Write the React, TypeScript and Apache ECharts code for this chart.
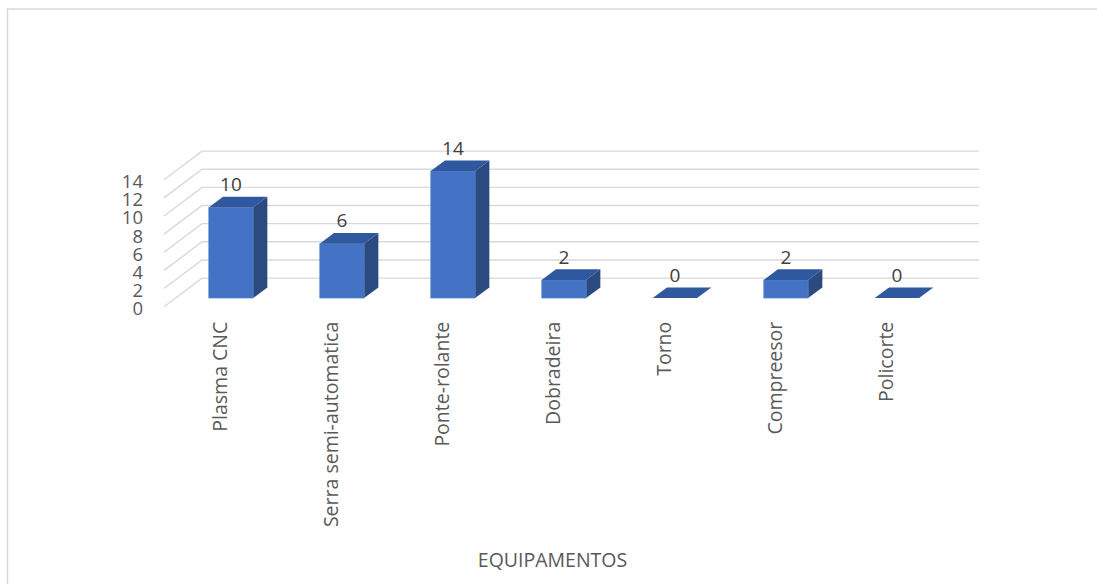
import React, { useEffect, useRef } from "react";
import * as echarts from "echarts";

const categories = [
  "Plasma CNC",
  "Serra semi-automatica",
  "Ponte-rolante",
  "Dobradeira",
  "Torno",
  "Compreesor",
  "Policorte",
];
const values = [10, 6, 14, 2, 0, 2, 0];
const yTicks = [0, 2, 4, 6, 8, 10, 12, 14];
const axisTitle = "EQUIPAMENTOS";

// 3D perspective (style constants)
const DX = 38;
const DY = -28.6;
const FRONT = 0.3;
const DEPTH = 0.375;
const FONT = "'Open Sans', sans-serif";

export default function App() {
  const ref = useRef<HTMLDivElement>(null);
  useEffect(() => {
    const chart = echarts.init(ref.current!, null, { renderer: "svg" });
    chart.setOption({
      animation: false,
      backgroundColor: "#ffffff",
      grid: { left: 164, top: 179.7, width: 777, height: 127, containLabel: false },
      xAxis: {
        type: "category",
        data: categories,
        axisLine: { show: false },
        axisTick: { show: false },
        axisLabel: {
          interval: 0,
          rotate: 90,
          margin: 15,
          color: "#595959",
          fontSize: 19.5,
          fontFamily: FONT,
        },
        name: axisTitle,
        nameLocation: "middle",
        nameGap: 243,
        nameTextStyle: { color: "#595959", fontSize: 19.5, fontFamily: FONT },
      },
      yAxis: {
        type: "value",
        min: 0,
        max: 14,
        interval: 2,
        axisLine: { show: false },
        axisTick: { show: false },
        splitLine: { show: false },
        axisLabel: { show: false },
      },
      graphic: [
        {
          type: "rect",
          silent: true,
          shape: { x: 7.5, y: 9, width: 1300, height: 800 },
          style: { fill: "none", stroke: "#d9d9d9", lineWidth: 1.5 },
        },
      ],
      series: [
        {
          type: "custom",
          silent: true,
          z: 1,
          data: yTicks.map((v) => [0, v]),
          renderItem: (params: any, api: any) => {
            const cs = params.coordSys;
            const v = api.value(1);
            const y = api.coord([0, v])[1];
            const x0 = cs.x;
            const x1 = cs.x + cs.width;
            return {
              type: "group",
              children: [
                {
                  type: "polyline",
                  shape: {
                    points: [
                      [x0, y],
                      [x0 + DX, y + DY],
                      [x1 + DX, y + DY],
                    ],
                  },
                  style: { stroke: "#d9d9d9", lineWidth: 1.4, fill: "none" },
                },
                {
                  type: "text",
                  style: {
                    x: x0 - 21,
                    y: y + 1,
                    text: String(v),
                    align: "right",
                    verticalAlign: "middle",
                    fill: "#595959",
                    fontSize: 18.5,
                    fontFamily: FONT,
                  },
                },
              ],
            };
          },
        },
        {
          type: "custom",
          z: 2,
          data: values.map((v, i) => [i, v]),
          renderItem: (params: any, api: any) => {
            const i = api.value(0);
            const v = api.value(1);
            const top = api.coord([i, v]);
            const base = api.coord([i, 0]);
            const bw = api.size([1, 0])[0] * 0.4;
            const fx = FRONT * DX;
            const fy = FRONT * DY;
            const sx = DEPTH * DX;
            const sy = DEPTH * DY;
            const xl = top[0] - bw / 2 + fx;
            const xr = xl + bw;
            const yt = top[1] + fy;
            const yb = base[1] + fy;
            const children: any[] = [];
            if (v > 0) {
              children.push({
                type: "polygon",
                shape: {
                  points: [
                    [xr, yt],
                    [xr + sx, yt + sy],
                    [xr + sx, yb + sy],
                    [xr, yb],
                  ],
                },
                style: { fill: "#2a4a80" },
              });
              children.push({
                type: "rect",
                shape: { x: xl, y: yt, width: bw, height: yb - yt },
                style: { fill: "#4472c4", stroke: "#5a84cc", lineWidth: 0.6 },
              });
            }
            children.push({
              type: "polygon",
              shape: {
                points: [
                  [xl, yt],
                  [xr, yt],
                  [xr + sx, yt + sy],
                  [xl + sx, yt + sy],
                ],
              },
              style: { fill: "#30589e" },
            });
            children.push({
              type: "text",
              style: {
                x: top[0] + fx,
                y: yt + sy - 3,
                text: String(v),
                align: "center",
                verticalAlign: "bottom",
                fill: "#404040",
                fontSize: 19,
                fontFamily: FONT,
              },
            });
            return { type: "group", children };
          },
        },
      ],
    });
    return () => chart.dispose();
  }, []);
  return (
    <div
      ref={ref}
      style={{ position: "fixed", left: 0, top: 0, width: 1097, height: 584 }}
    />
  );
}
